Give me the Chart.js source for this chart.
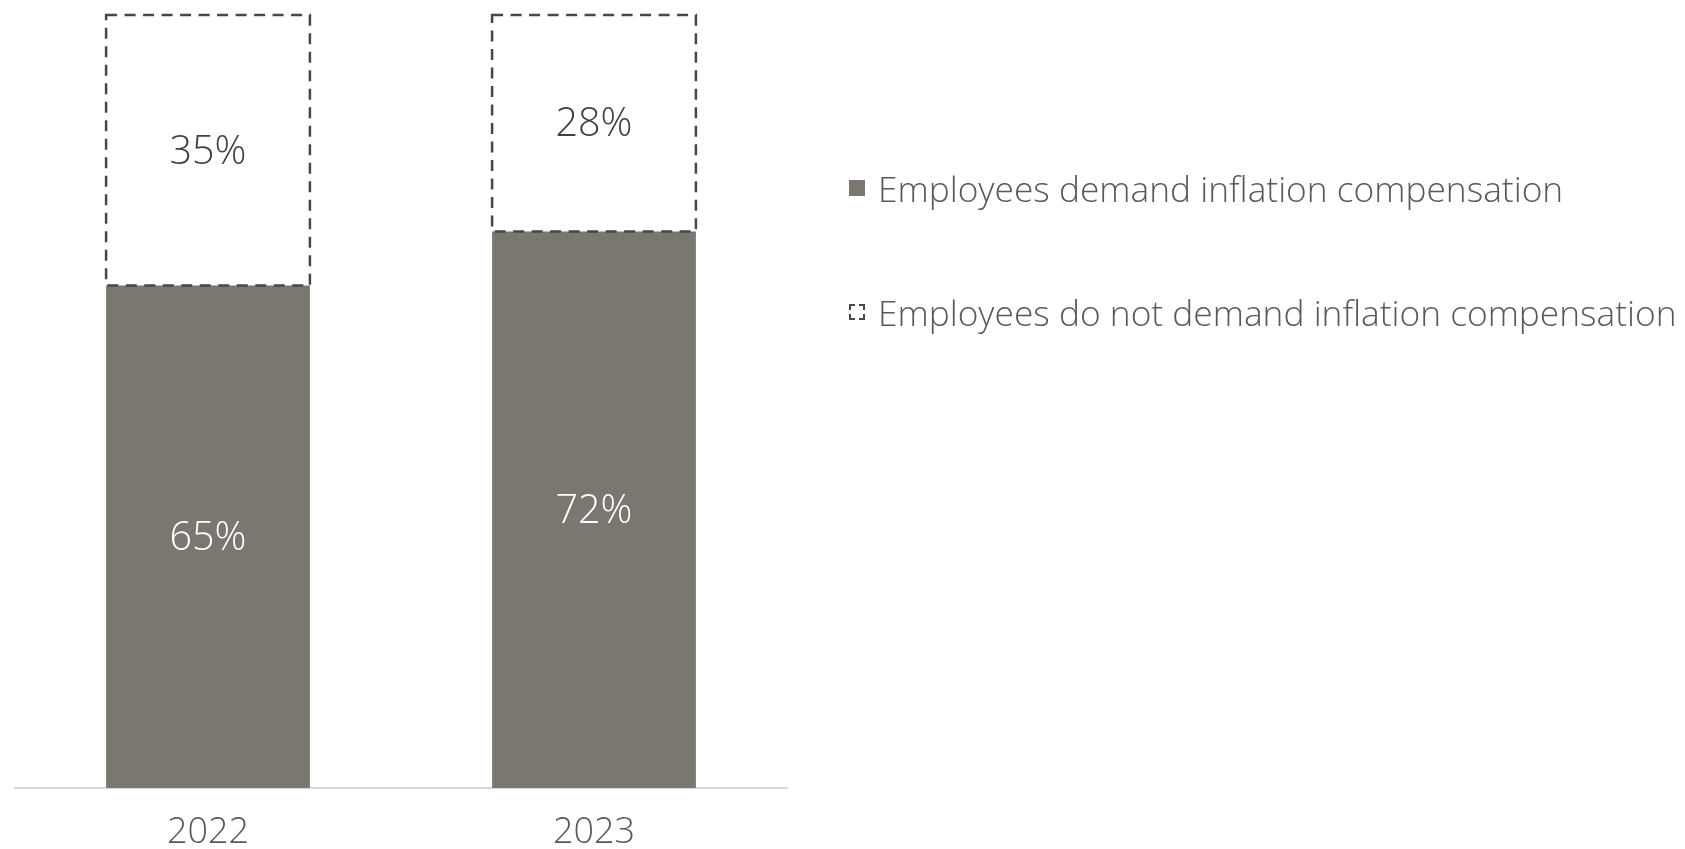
<!DOCTYPE html>
<html>
<head>
<meta charset="utf-8">
<title>Inflation compensation</title>
<script src="https://cdn.jsdelivr.net/npm/chart.js@4.4.1/dist/chart.umd.min.js"></script>
<style>
    html, body { margin: 0; padding: 0; background: #ffffff; }
    .wrap { position: relative; width: 1685px; height: 849px; }
    #chart { position: absolute; left: 0; top: 0; }
    .legend { position: absolute; left: 849px; top: 0; font-family: "Open Sans", sans-serif; font-weight: 300; font-size: 35.3px; color: #595959; }
    .legend-item { position: absolute; left: 0; white-space: nowrap; display: flex; align-items: center; transform: translateY(-50%); }
    .legend-icon { width: 16px; height: 16px; box-sizing: border-box; margin-right: 13px; flex: none; }
</style>
</head>
<body>
<div class="wrap">
    <canvas id="chart" width="1685" height="849"></canvas>
    <div class="legend" id="legend"></div>
</div>
<script>
// ======================== DATA ========================
const years = ['2022', '2023'];
const demandValues = [65, 72];
const noDemandValues = [35, 28];
const seriesLabels = ['Employees demand inflation compensation', 'Employees do not demand inflation compensation'];

const GREY = '#7a7770';
const DASH = '#474747';
const FONT = '"Open Sans", sans-serif';

// dashed outline for the "do not demand" segments (bar element has no borderDash)
const dashedBars = {
    id: 'dashedBars',
    afterDatasetsDraw(chart) {
        const ctx = chart.ctx;
        const meta = chart.getDatasetMeta(1);
        ctx.save();
        ctx.strokeStyle = DASH;
        ctx.lineWidth = 2.5;
        ctx.setLineDash([11, 7.5]);
        meta.data.forEach(bar => {
            const p = bar.getProps(['x', 'y', 'base', 'width'], true);
            ctx.strokeRect(p.x - p.width / 2, p.y, p.width, p.base - p.y);
        });
        ctx.restore();
    }
};

// percentage labels in the middle of each segment
const valueLabels = {
    id: 'valueLabels',
    afterDatasetsDraw(chart) {
        const ctx = chart.ctx;
        ctx.save();
        ctx.font = '300 39.5px ' + FONT;
        ctx.textAlign = 'center';
        ctx.textBaseline = 'middle';
        chart.data.datasets.forEach((ds, i) => {
            chart.getDatasetMeta(i).data.forEach((bar, j) => {
                const p = bar.getProps(['x', 'y', 'base'], true);
                ctx.fillStyle = i === 0 ? '#ffffff' : '#404040';
                ctx.fillText(ds.data[j] + '%', p.x, (p.y + p.base) / 2 + 2);
            });
        });
        ctx.restore();
    }
};

const chart = new Chart(document.getElementById('chart'), {
    type: 'bar',
    data: {
        labels: years,
        datasets: [
            { label: seriesLabels[0], data: demandValues, backgroundColor: GREY, borderWidth: 0 },
            { label: seriesLabels[1], data: noDemandValues, backgroundColor: '#ffffff', borderWidth: 0 }
        ]
    },
    options: {
        responsive: false,
        animation: false,
        layout: { padding: { left: 15, top: 15, right: 898, bottom: 0 } },
        datasets: { bar: { categoryPercentage: 1, barPercentage: 0.528 } },
        plugins: {
            legend: { display: false },
            tooltip: { enabled: false }
        },
        scales: {
            x: {
                stacked: true,
                grid: { display: false, drawTicks: false },
                border: { display: true, color: '#d9d9d9', width: 2 },
                ticks: { color: '#595959', padding: 27, font: { family: FONT, weight: 300, size: 36, lineHeight: 1 } },
                afterFit: scale => { scale.height = 61; }
            },
            y: { stacked: true, display: false, min: 0, max: 100 }
        }
    },
    plugins: [dashedBars, valueLabels]
});

// ======================== LEGEND ========================
const legendRows = [188, 312];
const legendEl = document.getElementById('legend');
chart.data.datasets.forEach((ds, i) => {
    const item = document.createElement('div');
    item.className = 'legend-item';
    item.style.top = legendRows[i] + 'px';
    const icon = document.createElement('span');
    icon.className = 'legend-icon';
    if (i === 0) icon.style.background = GREY;
    else icon.style.border = '2px dashed ' + DASH;
    item.appendChild(icon);
    item.appendChild(document.createTextNode(ds.label));
    legendEl.appendChild(item);
});
</script>
</body>
</html>
